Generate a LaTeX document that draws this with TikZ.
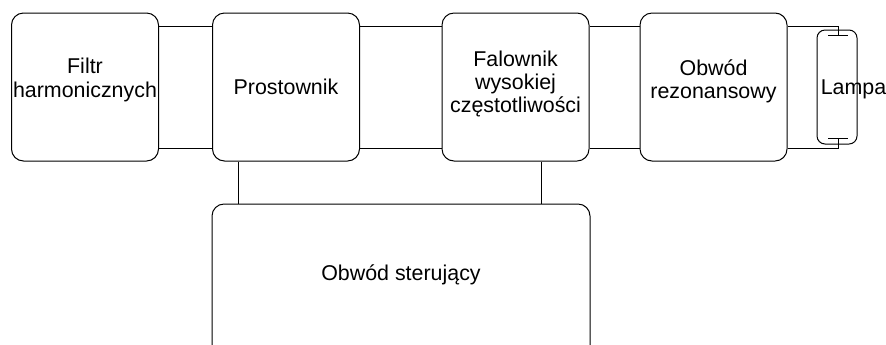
\documentclass[tikz,border=0pt]{standalone}
\usepackage{fontspec}
\setmainfont{Liberation Sans}
\usepackage{tikz}
\usetikzlibrary{shapes}

\begin{document}
\begin{tikzpicture}[x=0.5pt,y=-0.5pt]
			\tikzstyle{tekst}=[inner sep=0pt,align=center,font=\fontsize{10.7}{11.6}\selectfont]
			\tikzstyle{blok}=[tekst,draw,line width=0.5pt,rounded corners=6pt,minimum width=73.5pt,minimum height=74pt]
			\tikzstyle{linia}=[line width=0.5pt]
			\clip (0,0) rectangle (886,344);
			
			\node[blok,label={[tekst,yshift=3.5pt]center:Filtr\\harmonicznych}] (filtr) at (85,87) {};
			\node[blok] (prost) at (286,87) {Prostownik};
			\node[blok,label={[tekst,yshift=1.5pt]center:Falownik\\wysokiej\\częstotliwości}] (falow) at (515.5,87) {};
			\node[blok,label={[tekst,yshift=3pt]center:Obwód\\rezonansowy}] (rezon) at (713.5,87) {};
			\node[blok,minimum width=189pt,minimum height=80pt,label={[tekst,yshift=4.5pt]center:Obwód sterujący}] (ster) at (401,284) {};
			\node[blok,minimum width=20pt,minimum height=57pt,rounded corners=4pt] (lampa) at (837,87) {};
			\node[tekst] (napis) at (853.5,89) {Lampa};
			
			\coordinate (eg) at ([xshift=0.5pt,yshift=-3pt]lampa.north);
			\coordinate (ed) at ([xshift=0.5pt,yshift=3pt]lampa.south);
			\draw[linia] ([xshift=-5pt]eg) -- ([xshift=5pt]eg);
			\draw[linia] ([xshift=-5pt]ed) -- ([xshift=5pt]ed);
			
			\foreach \a/\b in {filtr/prost,prost/falow,falow/rezon}
			{
				\draw[linia] ([yshift=30.5pt]\a.east) -- ([yshift=30.5pt]\b.west);
				\draw[linia] ([yshift=-30.5pt]\a.east) -- ([yshift=-30.5pt]\b.west);
			}
			\draw[linia] ([yshift=30.5pt]rezon.east) -| (eg);
			\draw[linia] ([yshift=-30.5pt]rezon.east) -| (ed);
			
			\draw[linia] ([xshift=-24pt]prost.south) -- ([xshift=-24pt]prost.south |- ster.north);
			\draw[linia] ([xshift=13pt]falow.south) -- ([xshift=13pt]falow.south |- ster.north);
			
			\end{tikzpicture}
\end{document}
